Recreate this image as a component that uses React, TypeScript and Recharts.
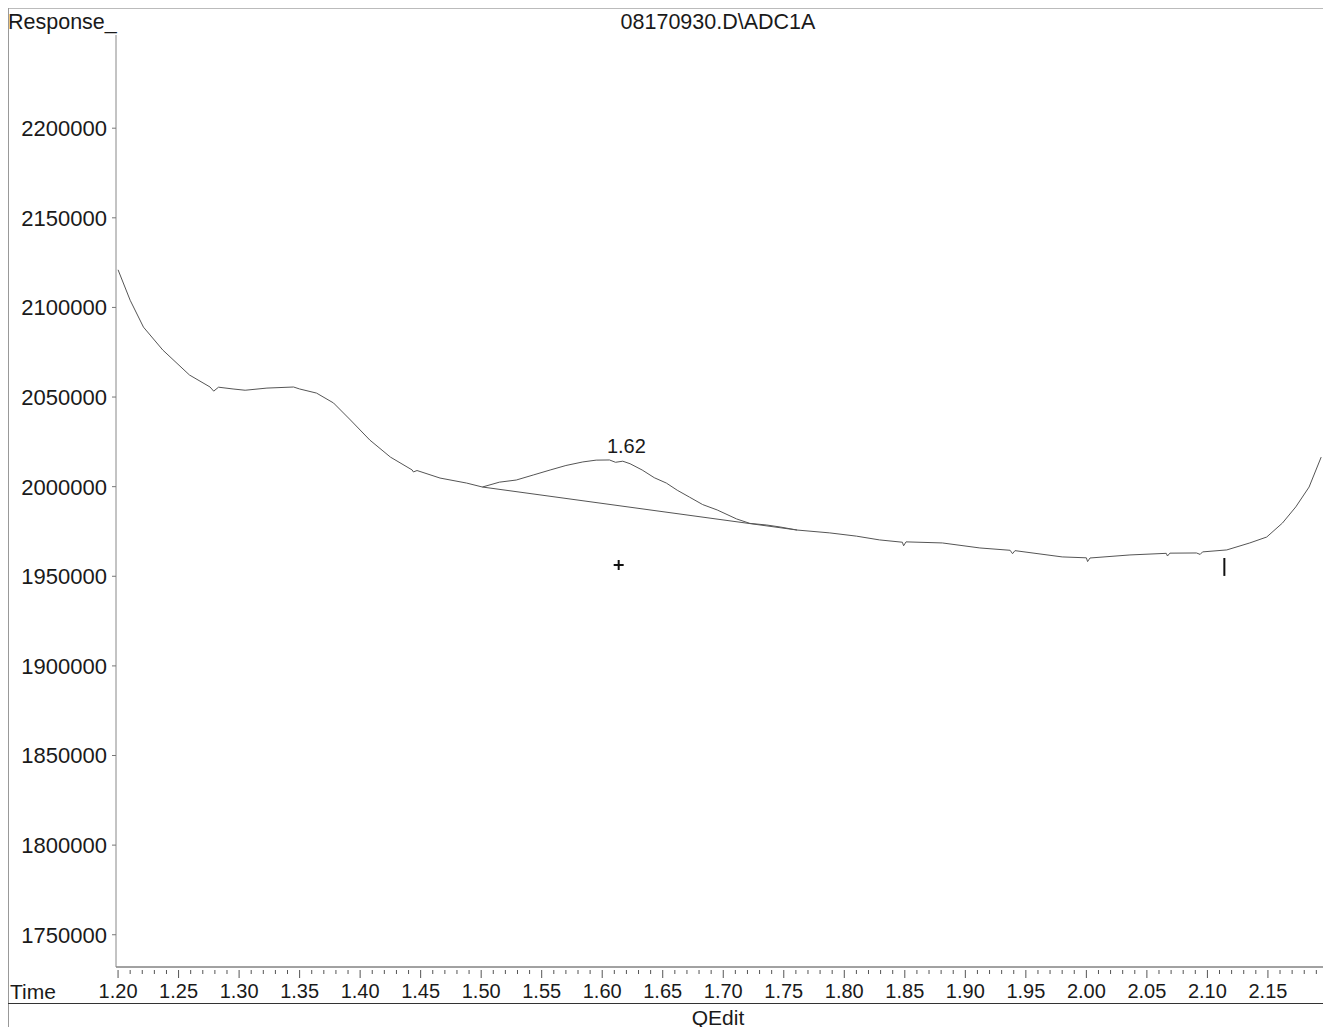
import React from 'react';
import { LineChart, Line, XAxis, YAxis, ReferenceLine, ReferenceDot } from 'recharts';

// retention time (min) and detector response
const times = [
  1.2, 1.21, 1.221, 1.237, 1.259, 1.276, 1.279, 1.283, 1.295, 1.305,
  1.323, 1.345, 1.35, 1.364, 1.378, 1.392, 1.408, 1.425, 1.443, 1.444,
  1.447, 1.466, 1.488, 1.501, 1.515, 1.529, 1.543, 1.557, 1.57, 1.584,
  1.595, 1.606, 1.611, 1.617, 1.623, 1.633, 1.643, 1.653, 1.662, 1.672,
  1.683, 1.695, 1.711, 1.722, 1.736, 1.747, 1.761, 1.788, 1.81, 1.829,
  1.848, 1.849, 1.851, 1.881, 1.912, 1.937, 1.939, 1.941, 1.98, 2.0,
  2.001, 2.003, 2.036, 2.066, 2.067, 2.069, 2.091, 2.094, 2.096, 2.116,
  2.135, 2.149, 2.162, 2.173, 2.184, 2.194,
];
const response = [
  2121000, 2104000, 2089000, 2076200, 2062300, 2055600, 2053300, 2055500, 2054500, 2053800,
  2055000, 2055600, 2054500, 2052200, 2046700, 2037200, 2026000, 2016500, 2009300, 2008200,
  2009000, 2004800, 2002000, 1999800, 2002500, 2003700, 2006500, 2009300, 2011800, 2013800,
  2014800, 2014900, 2013600, 2014200, 2012800, 2009300, 2005000, 2002000, 1998000, 1994200,
  1990000, 1987000, 1982000, 1979500, 1978600, 1977500, 1975800, 1974200, 1972400, 1970300,
  1969000, 1967000, 1969200, 1968600, 1965800, 1964500, 1962600, 1964300, 1960800, 1960300,
  1958200, 1960200, 1961900, 1962800, 1961300, 1962900, 1963000, 1962200, 1963600, 1964700,
  1968600, 1971900, 1979700, 1988700, 1999800, 2016500,
];

const xMajorTicks = [
  1.2, 1.25, 1.3, 1.35, 1.4, 1.45, 1.5, 1.55, 1.6, 1.65,
  1.7, 1.75, 1.8, 1.85, 1.9, 1.95, 2.0, 2.05, 2.1, 2.15,
];
const yTicks = [1750000, 1800000, 1850000, 1900000, 1950000, 2000000, 2050000, 2100000, 2150000, 2200000];

// integration marks
const peakLabel = '1.62';
const peakLabelAt = [1.62, 2015200];
const baselineTimes = [1.501, 1.761];
const baselineValues = [1999800, 1975800];
const crossAt = [1.6136, 1956300];
const endMarkTime = 2.114;
const endMarkValues = [1960200, 1950200];

const data = times.map((t, i) => ({ t, v: response[i] }));

// minor ticks every 0.01 between the labelled ones
const xAllTicks: number[] = [];
xMajorTicks.forEach((m) => {
  for (let k = 0; k < 5; k++) xAllTicks.push(Math.round((m + k * 0.01) * 100) / 100);
});

const FONT = '"Liberation Sans", Arial, sans-serif';
const INK = '#1a1a1a';

const XTick = (props: any) => {
  const { x, y, payload } = props;
  const v = payload.value as number;
  const major = Math.abs(v * 20 - Math.round(v * 20)) < 1e-6;
  return (
    <g>
      <line x1={x} x2={x} y1={y + 3} y2={y + (major ? 11 : 7)} stroke="#555" strokeWidth={1} />
      {major && (
        <text x={x} y={y + 31} textAnchor="middle" fontSize={20} fill={INK} fontFamily={FONT}>
          {v.toFixed(2)}
        </text>
      )}
    </g>
  );
};

const YTick = (props: any) => {
  const { x, y, payload } = props;
  return (
    <g>
      <line x1={x - 4} x2={x} y1={y} y2={y} stroke="#777" strokeWidth={1} />
      <text x={x - 9} y={y} dy="0.36em" textAnchor="end" fontSize={22} fill={INK} fontFamily={FONT}>
        {payload.value}
      </text>
    </g>
  );
};

const Cross = (props: any) => {
  const { cx, cy } = props;
  return (
    <g stroke="#111" strokeWidth={2}>
      <line x1={cx - 5} x2={cx + 5} y1={cy} y2={cy} />
      <line x1={cx} x2={cx} y1={cy - 5} y2={cy + 5} />
    </g>
  );
};

const App: React.FC = () => {
  return (
    <div style={{ position: 'absolute', left: 0, top: 0, width: 1323, height: 1027, background: '#fff', fontFamily: FONT }}>
      {/* page frame */}
      <div style={{ position: 'absolute', left: 8, top: 8, width: 1315, height: 0, borderTop: '1px solid #bbb' }} />
      <div style={{ position: 'absolute', left: 8, top: 8, width: 0, height: 1019, borderLeft: '1px solid #999' }} />
      <div style={{ position: 'absolute', left: 8, top: 1003, width: 1315, height: 0, borderTop: '1px solid #333' }} />

      <div style={{ position: 'absolute', left: 8, top: 10, fontSize: 21.5, lineHeight: '25px', color: INK }}>Response_</div>
      <div style={{ position: 'absolute', left: 718, top: 10, transform: 'translateX(-50%)', fontSize: 21.5, lineHeight: '25px', color: INK, whiteSpace: 'nowrap' }}>
        08170930.D\ADC1A
      </div>
      <div style={{ position: 'absolute', left: 10, top: 980, fontSize: 21, lineHeight: '24px', color: INK }}>Time</div>
      <div style={{ position: 'absolute', left: 718, top: 1006, transform: 'translateX(-50%)', fontSize: 21, lineHeight: '24px', color: INK }}>QEdit</div>

      <div style={{ position: 'absolute', left: 0, top: 0 }}>
        <LineChart width={1323} height={1027} data={data} margin={{ top: 35, right: 0, bottom: 0, left: 0 }}>
          <XAxis
            dataKey="t"
            type="number"
            domain={[1.1983, 2.1955]}
            allowDataOverflow
            ticks={xAllTicks}
            interval={0}
            tickSize={0}
            tickMargin={0}
            tickLine={false}
            height={60}
            axisLine={{ stroke: '#444' }}
            tick={(p: any) => <XTick {...p} />}
          />
          <YAxis
            dataKey="v"
            type="number"
            domain={[1732000, 2252000]}
            allowDataOverflow
            ticks={yTicks}
            interval={0}
            tickSize={0}
            tickMargin={0}
            tickLine={false}
            width={116}
            axisLine={{ stroke: '#888' }}
            tick={(p: any) => <YTick {...p} />}
          />
          <Line type="linear" dataKey="v" stroke="#555" strokeWidth={1} dot={false} isAnimationActive={false} />
          <ReferenceLine
            segment={[
              { x: baselineTimes[0], y: baselineValues[0] },
              { x: baselineTimes[1], y: baselineValues[1] },
            ]}
            stroke="#555"
            strokeWidth={1}
          />
          <ReferenceLine
            segment={[
              { x: endMarkTime, y: endMarkValues[0] },
              { x: endMarkTime, y: endMarkValues[1] },
            ]}
            stroke="#111"
            strokeWidth={2}
          />
          <ReferenceDot
            x={peakLabelAt[0]}
            y={peakLabelAt[1]}
            r={0}
            fill="none"
            stroke="none"
            label={{ value: peakLabel, position: 'top', offset: 6, fontSize: 20, fill: INK, fontFamily: FONT }}
          />
          <ReferenceDot x={crossAt[0]} y={crossAt[1]} shape={(p: any) => <Cross {...p} />} />
        </LineChart>
      </div>
    </div>
  );
};

export default App;
